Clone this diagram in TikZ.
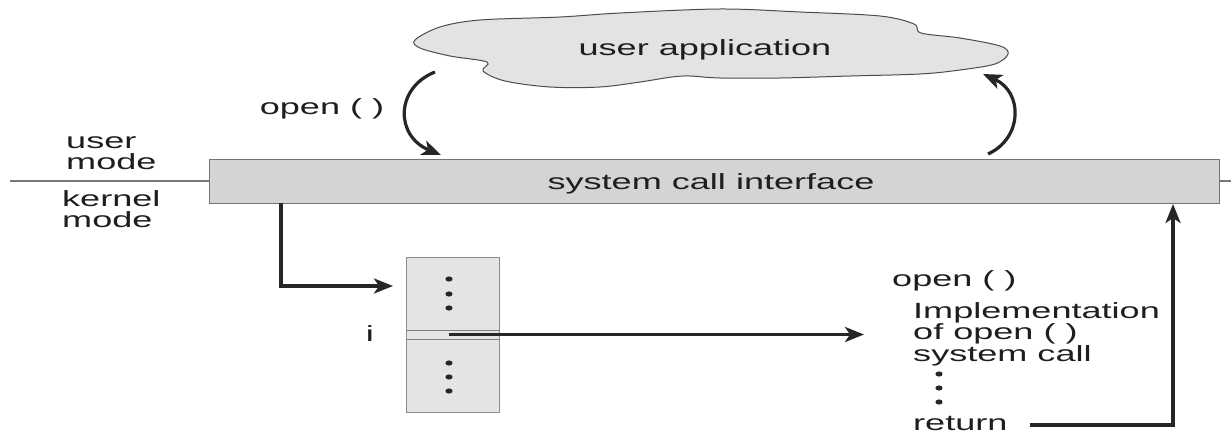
\documentclass[tikz,border=0pt]{standalone}
\usepackage{fontspec}
\setmainfont{Liberation Sans}
\usetikzlibrary{arrows.meta}
\definecolor{txt}{HTML}{1E1E1E}
\definecolor{barfill}{HTML}{D4D4D4}
\definecolor{cloudfill}{HTML}{E3E3E3}
\definecolor{tblfill}{HTML}{E4E4E4}
\definecolor{edge}{HTML}{777777}
\newcommand{\wt}[1]{\scalebox{1.64}[1]{#1}}
\newcommand{\wlines}[1]{\scalebox{1.64}[1]{\begin{tabular}[t]{@{}l@{}}#1\end{tabular}}}
\begin{document}
\begin{tikzpicture}[x=1pt,y=-1pt,
  lbl/.style={inner sep=0pt, text=txt, font=\fontsize{22}{19.5}\selectfont},
  arr/.style={line width=3.2pt, draw=black!85, -{Stealth[length=19pt,width=15pt,inset=5pt]}},
  modeline/.style={line width=1.2pt, draw=edge},
  dot/.style={fill=black!85},
  boxstyle/.style={draw=black!55, line width=1.4pt, inner sep=0pt}
]
\useasboundingbox (0,0) rectangle (1231,436);
\fill[white] (0,0) rectangle (1231,436);

% cloud
\draw[fill=cloudfill, draw=black!70, line width=1pt]
  plot[smooth cycle, tension=0.55] coordinates {
   (415,40) (440,27) (480,20) (560,17) (620,13) (720,9) (800,12) (880,16) (914,24)
   (921,33) (960,38) (1000,46) (1008,54) (995,64) (960,70) (920,74) (850,76)
   (780,78) (720,78) (690,76) (672,77) (640,82) (600,87) (550,87) (505,81)
   (483,71) (487,62) (450,56) (420,48)};
\node[lbl, anchor=base] (app) at (705,56) {\wt{user application}};

% mode labels
\node[lbl, anchor=base west] (um) at (66,148) {\wlines{user\\mode}};
\node[lbl, anchor=base west] (km) at (62,206) {\wlines{kernel\\mode}};

% system call interface bar
\node[boxstyle, fill=barfill, minimum width=1010pt, minimum height=44pt, anchor=north west]
  (sci) at (209,159) {};
\node[lbl, anchor=base] (scitext) at (711,189) {\wt{system call interface}};
\coordinate (ml) at (10,181);
\coordinate (mr) at (1231,181);
\draw[modeline] (ml) -- (ml -| sci.west);
\draw[modeline] (mr -| sci.east) -- (mr);

% open() label and curved arrows
\node[lbl, anchor=base] (openl) at (322,114) {\wt{open ( )}};
\coordinate (d1) at (435,72);
\coordinate (d2) at (441,155);
\draw[arr] (d1) .. controls (395,88) and (395,136) .. (d2);
\coordinate (u1) at (988,154);
\coordinate (u2) at (983,74);
\draw[arr] (u1) .. controls (1023,138) and (1023,92) .. (u2);

% table
\node[boxstyle, draw=black!45, line width=1.2pt, fill=tblfill, minimum width=93pt, minimum height=155pt,
      anchor=north west] (tbl) at (406,257) {};
\draw[draw=black!50, line width=1pt] (tbl.west |- 0,330) -- (tbl.east |- 0,330);
\draw[draw=black!50, line width=1pt] (tbl.west |- 0,339) -- (tbl.east |- 0,339);
\foreach \y in {279,294,308,363,377,391} \fill[dot] (449,\y) ellipse (3.6pt and 2.6pt);
\node[lbl, anchor=base] (ilbl) at (370,341) {\wt{i}};

% L arrow from bar to table
\coordinate (a1) at (281,203);
\coordinate (a2) at (393,286);
\draw[arr] (a1) |- (a2);

% row i arrow
\coordinate (r1) at (449,334.5);
\coordinate (r2) at (864,334.5);
\draw[arr] (r1) -- (r2);

% right column text
\node[lbl, anchor=base west] (openr) at (892,286) {\wt{open ( )}};
\node[lbl, anchor=base west] (impl) at (913,318) {\wlines{Implementation\\of open ( )\\system call}};
\foreach \y in {374,388,402} \fill[dot] (939,\y) ellipse (3.6pt and 2.6pt);
\node[lbl, anchor=base west] (ret) at (913,430) {\wt{return}};

% return arrow
\coordinate (b1) at (1030,425);
\coordinate (b2) at (1173,204);
\draw[arr] (b1) -| (b2);
\end{tikzpicture}
\end{document}
